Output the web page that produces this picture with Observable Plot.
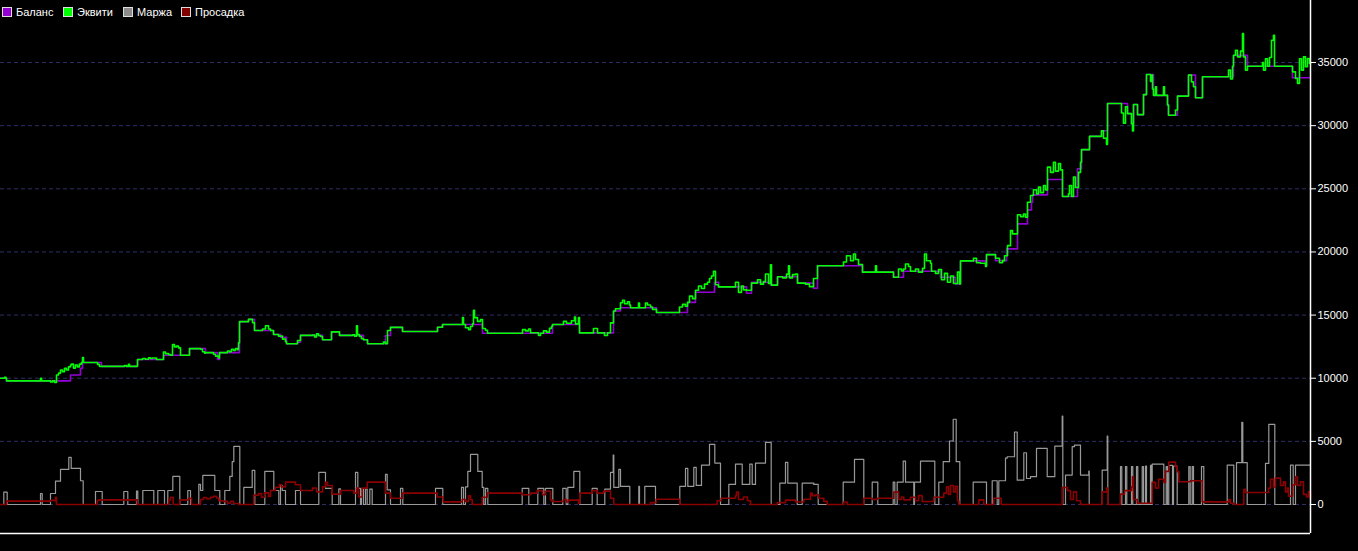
<!DOCTYPE html>
<html>
<head>
<meta charset="utf-8">
<script src="https://cdn.jsdelivr.net/npm/d3@7"></script>
<script src="https://cdn.jsdelivr.net/npm/@observablehq/plot@0.6"></script>
<style>
  html, body { margin: 0; padding: 0; background: #000; }
  #wrap { position: relative; width: 1358px; height: 551px; overflow: hidden; }
  #legend { position: absolute; left: 2px; top: 6px; font: 11px "Liberation Sans", Arial, sans-serif; color: #fff; display: flex; }
  #legend .item { display: flex; align-items: center; margin-right: 0; }
  #legend .sw { width: 8px; height: 8px; border: 1px solid #ddd; margin-right: 4px; }
</style>
</head>
<body>
<div id="wrap">
  <div id="chart"></div>
  <div id="legend"></div>
</div>
<script>
// ---- data (x = time index, value = account currency) ----
const seriesNames = ["Баланс", "Эквити", "Маржа", "Просадка"];
const seriesColors = ["#9400d3", "#00ff00", "#8c8c8c", "#800000"];
const tickValues = [0, 5000, 10000, 15000, 20000, 25000, 30000, 35000];

const balance = [[0,10000],[6,9790],[70,10260],[80,10780],[82,11250],[101,10940],[137,11480],[163,11820],[189,12340],[205,12030],[217,11480],[219,12030],[239,14480],[248,14660],[254,13780],[273,13460],[280,13250],[286,12730],[297,12860],[300,13390],[322,13050],[331,13670],[339,13390],[363,13050],[367,12730],[385,13380],[390,14030],[402,13700],[437,14040],[442,14250],[482,13560],[552,14250],[579,13590],[613,15320],[620,15580],[656,15210],[687,16010],[695,16810],[714,17600],[718,17230],[746,16730],[751,17600],[770,17370],[777,18030],[797,17530],[813,17130],[817,18910],[862,18400],[893,17990],[903,18470],[940,17990],[955,17460],[960,19290],[985,18860],[986,19790],[995,19310],[1006,20240],[1017,22220],[1027,23330],[1031,23940],[1032,24520],[1047,25740],[1062,24390],[1077,26590],[1081,28100],[1089,29150],[1101,29600],[1107,31750],[1127,30950],[1131,30160],[1133,31670],[1137,30870],[1143,32460],[1146,34050],[1153,32400],[1167,31630],[1168,30820],[1177,32340],[1188,34000],[1195,32210],[1202,33870],[1233,35580],[1247,34710],[1292,33790],[1310,33790]];

const equity = [[0,10000],[4,10080],[5.5,10000],[6,9790],[40,10000],[41,9790],[50,9700],[52,9790],[54,9660],[56,10260],[58,10400],[60,10650],[62,10520],[64,10780],[66,10650],[68,10900],[70,11050],[71,11120],[73,10800],[75,11050],[77,10900],[79,11120],[81,11250],[82,11640],[83,11250],[97,11100],[99,10940],[124,11000],[126,10940],[128,11100],[129,10940],[137,11480],[142,11560],[145,11500],[148,11620],[150,11560],[152,11600],[156,11480],[163,12080],[165,11950],[168,11880],[170,11820],[172,12660],[174,12470],[176,12540],[178,12400],[180,11820],[189,12340],[200,12300],[202,12100],[204,11990],[205,12030],[213,11900],[215,11750],[218,11600],[219,12030],[227,12150],[229,12100],[231,12300],[233,12200],[235,12350],[237,12250],[238,12800],[239,14480],[248,14660],[252,14400],[254,13780],[262,13900],[265,14160],[268,13900],[270,13780],[273,13460],[278,13330],[282,13100],[285,12900],[286,12730],[297,12990],[300,13390],[312,13420],[314,13260],[316,13520],[318,13380],[320,13300],[322,13050],[331,13670],[339,13390],[352,13430],[354,13330],[356,14160],[357,13450],[359,13300],[361,13130],[363,13050],[367,12730],[383,12870],[385,12730],[387,13780],[390,14030],[402,13700],[437,14040],[442,14250],[462,14800],[463,14250],[465,14000],[468,13850],[470,14100],[472,14300],[473,15370],[474,14800],[477,14500],[480,14650],[482,13940],[485,13800],[487,13560],[522,13850],[525,13750],[528,13900],[530,13600],[538,13380],[540,13560],[543,13750],[546,13650],[549,13950],[551,14100],[552,14250],[563,14500],[566,14350],[571,14550],[574,14840],[575,14300],[578,14800],[579,13590],[593,13940],[597,13590],[604,13380],[607,13600],[610,14380],[613,15320],[615,15500],[620,15980],[622,16170],[624,15900],[627,16050],[629,15800],[630,15580],[638,15960],[639,15580],[645,15960],[647,15800],[650,15640],[652,15450],[656,15210],[679,15640],[682,15850],[685,15700],[687,16010],[689,16500],[692,16300],[695,16970],[698,17300],[701,17100],[704,17450],[707,17600],[709,17900],[711,18100],[713,18460],[715,17400],[718,17230],[735,17600],[738,16800],[741,17300],[743,17000],[746,16970],[751,17530],[757,17800],[760,17450],[763,17650],[765,18250],[768,17500],[770,18990],[771,17370],[777,18030],[782,17950],[786,18240],[788,18900],[789,17950],[792,18200],[795,18250],[797,17530],[805,17450],[809,17250],[813,17900],[817,18910],[843,19200],[846,19700],[850,19300],[853,19840],[855,19400],[858,19000],[862,18400],[875,18900],[876,18400],[893,17990],[898,18650],[901,18500],[903,18650],[905,19050],[908,18850],[910,18470],[915,18650],[918,18400],[922,18700],[924,19840],[926,19300],[930,19100],[931,18470],[935,18300],[938,18600],[941,17800],[944,18300],[947,17600],[950,18100],[953,17500],[957,18400],[959,17460],[960,19290],[973,19500],[976,19150],[980,19100],[985,18860],[986,19790],[995,19500],[999,19150],[1002,19310],[1004,19700],[1007,20500],[1010,21690],[1012,21430],[1017,22940],[1020,22800],[1023,23000],[1025,22750],[1027,23940],[1030,24470],[1033,24920],[1036,24600],[1038,25130],[1040,24700],[1043,25260],[1045,24900],[1047,26720],[1050,26300],[1053,27100],[1055,26400],[1058,27000],[1060,26500],[1062,24390],[1068,24600],[1069,25260],[1071,24400],[1073,25930],[1075,25100],[1078,26300],[1080,27100],[1081,28100],[1089,29150],[1101,29600],[1103,29000],[1106,28520],[1107,31750],[1121,31000],[1123,30200],[1125,31500],[1127,30950],[1131,30160],[1132,29580],[1133,31670],[1137,30870],[1143,32460],[1146,34050],[1150,33500],[1151,34000],[1152,32900],[1153,32400],[1155,33080],[1156,32400],[1163,33080],[1164,32400],[1167,31630],[1168,30820],[1175,31240],[1177,32340],[1188,34000],[1191,33470],[1193,33080],[1195,32210],[1202,33870],[1227,33870],[1228,34400],[1230,33700],[1232,34700],[1233,35580],[1235,35970],[1237,35450],[1240,35900],[1242,37290],[1243,35450],[1245,34400],[1247,34710],[1262,35000],[1263,34400],[1265,35300],[1267,34700],[1269,35400],[1271,36760],[1273,37160],[1274,34710],[1290,34700],[1292,34260],[1295,33740],[1297,33350],[1299,35300],[1301,34400],[1303,35450],[1305,34660],[1307,35320],[1309,34920],[1310,34920]];

const margin = [[0,0],[3.3,980],[6.7,0],[40,870],[41.7,0],[50,870],[55,1850],[60,2780],[68.3,3730],[70.7,2860],[80,1880],[82.7,0],[95,1030],[101.7,0],[123.3,1030],[127.3,0],[136,1060],[137.3,0],[142.3,1110],[153.3,0],[157.3,1110],[164,0],[167.3,1110],[172.3,2220],[179.3,0],[187.3,1110],[190,0],[198.3,1590],[200,1110],[202.3,2300],[214.3,1110],[219.3,0],[224.3,1110],[229.3,2220],[231.7,3390],[233.3,4600],[239.3,0],[243.3,1350],[251.7,2700],[254.3,0],[264.3,2620],[273.3,1110],[278.3,0],[280,1510],[281.7,1110],[285,0],[295,1110],[300,0],[318.3,2540],[325,1270],[331.7,0],[338.3,1240],[340,0],[355,2540],[357.3,1270],[360,0],[361,1220],[363,0],[365,1220],[366.7,0],[369.3,1220],[371.7,0],[385,2380],[386.7,1160],[390,0],[400,1270],[402.3,0],[435,1270],[442.3,0],[461,1350],[463,0],[465,1400],[467.3,2620],[470,3970],[477.3,2620],[481.7,1350],[483.3,0],[485,1270],[487.3,0],[521.7,1270],[528.3,0],[537.3,1270],[543.3,0],[545,1270],[552.3,0],[562.3,1270],[565.7,0],[567.3,1350],[573.3,2620],[579.3,0],[591.7,1270],[596.7,0],[604.3,1220],[610,2540],[612.7,3920],[613.3,1350],[618.3,2780],[620,1430],[629.3,0],[638.3,1430],[639,0],[644.3,1430],[655,0],[679.3,1430],[685,2860],[687.3,1430],[693.3,2940],[695.7,1510],[701,3120],[709,4760],[714.3,3280],[720,0],[728.3,1590],[735,3200],[741.7,1590],[749.3,3200],[751.7,1590],[755,3280],[765,4920],[770.7,0],[779.3,1690],[785,3330],[787.3,1690],[796.7,0],[801.7,1690],[813.3,1590],[817.7,0],[842.7,1770],[854,3570],[863.3,0],[871.7,1770],[877.3,0],[892.7,1770],[894.3,0],[896.7,1770],[902.7,3440],[905,1770],[913.3,0],[914,1770],[920,3440],[934.3,0],[938.3,1770],[942.7,3390],[949,5030],[952.7,6750],[955.7,3390],[959.3,0],[972.7,1770],[986,0],[991.7,1880],[996.7,0],[998.3,1880],[1005,3680],[1006.7,3780],[1014,5740],[1016.7,1930],[1023.3,4100],[1026,2060],[1030,2200],[1036,4440],[1046.7,2200],[1054.3,4630],[1061.7,7010],[1062.3,0],[1065,2330],[1071.7,4580],[1074,4710],[1080,2330],[1088.3,2650],[1088.7,0],[1101.7,2730],[1106.7,5420],[1107.3,0],[1120,3000],[1121.3,0],[1125,3000],[1126.3,0],[1131,3000],[1132.3,0],[1136,3000],[1137.3,0],[1141.7,3000],[1143,0],[1145,3050],[1146,0],[1150,3100],[1151,0],[1151.7,3200],[1163.3,0],[1165.7,3000],[1167,0],[1168.3,3100],[1172,0],[1173,3050],[1176.7,0],[1188.3,3000],[1189.7,0],[1191.7,3000],[1193,0],[1201,3000],[1203.3,0],[1226.7,3120],[1233.3,0],[1236,3310],[1241.3,6510],[1242.3,3310],[1246.7,0],[1265,3250],[1268.3,6350],[1274.3,0],[1290,3120],[1292.7,0],[1295,3120],[1310,3120]];

const drawdown = [[0,0],[6,265],[50,340],[53.3,300],[55,580],[56,0],[96.7,320],[98.3,370],[126.7,320],[127,370],[136.7,0],[168.3,370],[170,580],[172.7,0],[179.3,370],[188,500],[191,0],[200,400],[203,550],[206,450],[210,580],[213,650],[216,520],[218.3,300],[223,250],[227,100],[230,250],[233,80],[238.3,0],[253.3,740],[258,870],[261,580],[264,920],[268,640],[270,1110],[275,1370],[279,1590],[281,1400],[285,1770],[295,1560],[300,1110],[312,1300],[316,1000],[322,1400],[325,1750],[327,1500],[331.7,820],[340,1110],[353.3,900],[356,1300],[358,600],[361.7,1300],[366.7,1770],[385,900],[390,500],[401.7,900],[436.7,600],[442.7,210],[461.7,400],[465,250],[468,690],[470,400],[471.7,100],[472,0],[481.7,580],[486.7,900],[521.7,770],[530,900],[536.7,1100],[542,770],[545,1050],[550,370],[551.7,240],[563,400],[566,200],[568,350],[578,100],[579.3,900],[591.7,1100],[596.7,900],[603.3,1060],[610,500],[613.3,100],[613.5,0],[650,150],[655.7,420],[679.3,0],[716.7,300],[720.7,500],[735,700],[736,980],[738,400],[743,600],[747,300],[750,0],[776.7,150],[785,350],[795,200],[803.3,420],[810,900],[811.7,700],[815,770],[818.3,500],[823.3,250],[826.7,0],[843.3,200],[846.7,0],[863.3,500],[871.7,400],[876.7,500],[893.3,980],[898,400],[901,600],[903.3,370],[910,580],[915,300],[918,700],[921.7,240],[933.3,580],[943.3,900],[946,1400],[948,800],[950,1500],[953,1000],[955,1450],[957,300],[958.3,0],[978.3,370],[983.3,0],[993.3,500],[1000.7,0],[1061.7,1350],[1067,1100],[1070,400],[1073,1000],[1076,300],[1080,100],[1080.3,0],[1101.7,1000],[1106,1300],[1107.3,0],[1120,820],[1124,1100],[1131,1400],[1132,2200],[1133,400],[1136.7,100],[1151.7,1750],[1155,1300],[1158,2000],[1163.3,1750],[1165,2620],[1168.3,3360],[1175,3000],[1176.7,2600],[1178.3,1800],[1190,1880],[1201.7,210],[1228.3,400],[1230,100],[1233.3,0],[1243.3,1200],[1245,950],[1265,950],[1268,1300],[1270,2000],[1273,1400],[1275,2090],[1280,1500],[1283,1800],[1285,1000],[1287,1300],[1288,650],[1292,1560],[1295,2200],[1297,1500],[1300,1800],[1303,800],[1306,600],[1308,1000],[1310,500]];

// ---- chart ----
const yMin = -2296, yMax = 39911, xMax = 1310;
const lineOpts = (color, w) => ({x: d => d[0], y: d => d[1], curve: "step-after", stroke: color, strokeWidth: w});

const chart = Plot.plot({
  width: 1358,
  height: 551,
  marginLeft: 0,
  marginRight: 48,
  marginTop: 0,
  marginBottom: 18,
  style: {background: "#000", color: "#fff", fontFamily: "'Liberation Sans', Arial, sans-serif", fontSize: "11px"},
  x: {domain: [0, xMax], axis: null},
  y: {domain: [yMin, yMax], axis: null},
  marks: [
    Plot.ruleY(tickValues, {stroke: "#2e2e66", strokeDasharray: "4,3"}),
    Plot.line(balance, lineOpts(seriesColors[0], 1.6)),
    Plot.line(equity, lineOpts(seriesColors[1], 1.6)),
    Plot.line(margin, lineOpts("#999999", 1.2)),
    Plot.line(drawdown, lineOpts("#8b0000", 1.6)),
    Plot.ruleX([xMax], {stroke: "#fff", strokeWidth: 1.5}),
    Plot.ruleY([yMin], {stroke: "#fff", strokeWidth: 1.5}),
    Plot.axisY(tickValues, {anchor: "right", tickSize: 5, tickPadding: 2, tickFormat: d => String(d), label: null, color: "#fff"})
  ]
});
document.getElementById("chart").appendChild(chart);

// ---- legend overlay ----
const legend = document.getElementById("legend");
const lefts = [0, 61, 121, 179];
seriesNames.forEach((name, i) => {
  const item = document.createElement("div");
  item.className = "item";
  item.style.position = "absolute";
  item.style.left = lefts[i] + "px";
  item.style.top = "0px";
  const sw = document.createElement("div");
  sw.className = "sw";
  sw.style.background = seriesColors[i];
  const label = document.createElement("span");
  label.textContent = name;
  item.appendChild(sw);
  item.appendChild(label);
  legend.appendChild(item);
});
</script>
</body>
</html>
